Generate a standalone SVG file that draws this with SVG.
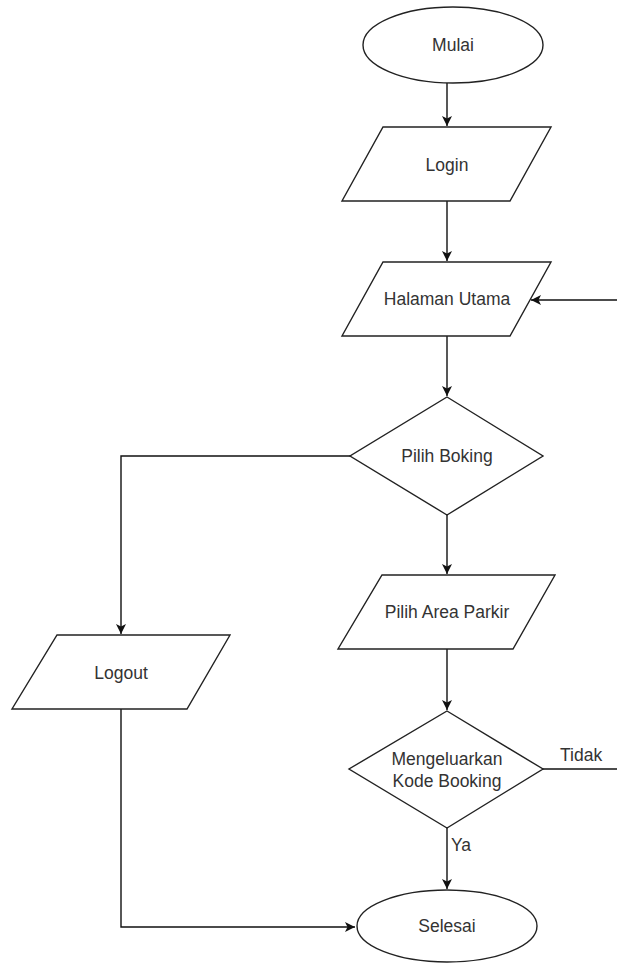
<svg xmlns="http://www.w3.org/2000/svg" width="617" height="963" viewBox="0 0 617 963">
<style>
.s{fill:#fff;stroke:#222;stroke-width:1.4}
.t{font-family:"Liberation Sans",Arial,sans-serif;font-size:17.5px;fill:#333;text-anchor:middle;dominant-baseline:central}
.c{fill:none;stroke:#111;stroke-width:1.4}
.l{font-family:"Liberation Sans",Arial,sans-serif;font-size:17.5px;fill:#333}
</style>
<defs>
<marker id="a" viewBox="0 0 10 10" refX="10" refY="5" markerWidth="10" markerHeight="10" markerUnits="userSpaceOnUse" orient="auto">
<path d="M0,0 L10,5 L0,10 L2.5,5 Z" fill="#111"/>
</marker>
</defs>
<rect width="617" height="963" fill="#fff"/>
<g id="connectors">
<path class="c" d="M447,83 V126" marker-end="url(#a)"/>
<path class="c" d="M447,201 V261" marker-end="url(#a)"/>
<path class="c" d="M617,300 H531" marker-end="url(#a)"/>
<path class="c" d="M447,336 V396" marker-end="url(#a)"/>
<path class="c" d="M350,456 H121 V634" marker-end="url(#a)"/>
<path class="c" d="M447,515 V574" marker-end="url(#a)"/>
<path class="c" d="M447,649 V710" marker-end="url(#a)"/>
<path class="c" d="M543,769 H617"/>
<path class="c" d="M447,828 V889" marker-end="url(#a)"/>
<path class="c" d="M121,709 V927 H355" marker-end="url(#a)"/>
<text class="l" x="560" y="761">Tidak</text>
<text class="l" x="451" y="851">Ya</text>
</g>
<g id="mulai">
<ellipse class="s" cx="453" cy="45" rx="90" ry="38"/>
<text class="t" x="453" y="45">Mulai</text>
</g>
<g id="login">
<polygon class="s" points="383,127 551,127 510,201 342,201"/>
<text class="t" x="447" y="165">Login</text>
</g>
<g id="halaman-utama">
<polygon class="s" points="383,262 551,262 510,336 342,336"/>
<text class="t" x="447" y="299">Halaman Utama</text>
</g>
<g id="pilih-boking">
<polygon class="s" points="447,397 543,456 447,515 350,456"/>
<text class="t" x="447" y="456">Pilih Boking</text>
</g>
<g id="pilih-area-parkir">
<polygon class="s" points="382,575 555,575 513,649 338,649"/>
<text class="t" x="447" y="612">Pilih Area Parkir</text>
</g>
<g id="logout">
<polygon class="s" points="57,635 230,635 187,709 12,709"/>
<text class="t" x="121" y="673">Logout</text>
</g>
<g id="kode-booking">
<polygon class="s" points="447,711 543,769 447,828 349,769"/>
<text class="t" x="447" y="759">Mengeluarkan</text>
<text class="t" x="447" y="781">Kode Booking</text>
</g>
<g id="selesai">
<ellipse class="s" cx="447" cy="926" rx="90" ry="36"/>
<text class="t" x="447" y="926">Selesai</text>
</g>
</svg>
